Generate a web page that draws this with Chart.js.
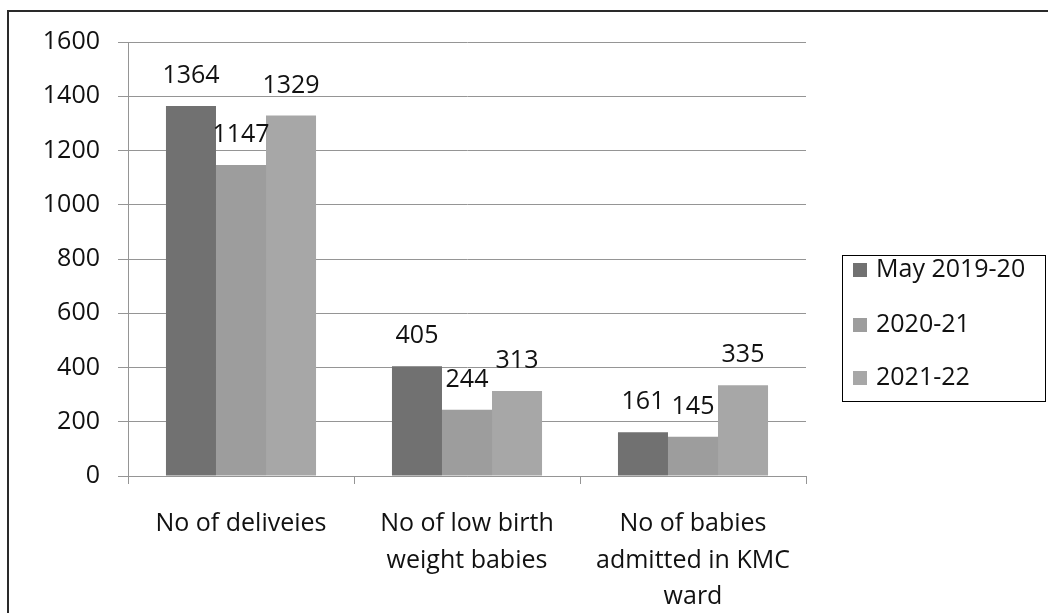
<!DOCTYPE html>
<html>
<head>
<meta charset="utf-8">
<script src="https://cdn.jsdelivr.net/npm/chart.js@4/dist/chart.umd.min.js"></script>
<style>
  html, body { margin: 0; padding: 0; background: #fff; }
  #wrap { position: relative; width: 1048px; height: 613px; overflow: hidden; }
  #frame { position: absolute; left: 7px; top: 10px; width: 1100px; height: 700px; border: 2px solid #2a2a2a; box-shadow: 1px 1px 0 #9a9a9a; }
  #c { position: absolute; left: 0; top: 0; }
</style>
</head>
<body>
<div id="wrap">
  <div id="frame"></div>
  <canvas id="c" width="1048" height="613"></canvas>
</div>
<script>
// ---- Data ----
const categories = [
  ['No of deliveies'],
  ['No of low birth', 'weight babies'],
  ['No of babies', 'admitted in KMC', 'ward']
];
const seriesNames = ['May 2019-20', '2020-21', '2021-22'];
const may2019_20 = [1364, 405, 161];
const y2020_21 = [1147, 244, 145];
const y2021_22 = [1329, 313, 335];
const yTicks = [0, 200, 400, 600, 800, 1000, 1200, 1400, 1600];

const colors = ['#717171', '#9d9d9d', '#a7a7a7'];
const FONT = "'Open Sans', sans-serif";

const valueLabels = {
  id: 'valueLabels',
  afterDatasetsDraw(chart) {
    const ctx = chart.ctx;
    ctx.save();
    ctx.font = "25px " + FONT;
    ctx.fillStyle = '#111';
    ctx.textAlign = 'center';
    ctx.textBaseline = 'middle';
    chart.data.datasets.forEach((ds, i) => {
      const meta = chart.getDatasetMeta(i);
      meta.data.forEach((bar, j) => {
        ctx.fillText(String(ds.data[j]), bar.x, bar.y - 30);
      });
    });
    ctx.restore();
  }
};

const boxedLegend = {
  id: 'boxedLegend',
  afterDraw(chart) {
    const ctx = chart.ctx;
    ctx.save();
    ctx.strokeStyle = '#000';
    ctx.lineWidth = 1;
    ctx.strokeRect(842.5, 255.5, 203, 146);
    ctx.font = "25px " + FONT;
    ctx.textAlign = 'left';
    ctx.textBaseline = 'middle';
    const rows = [270, 325, 378];
    chart.data.datasets.forEach((ds, i) => {
      ctx.fillStyle = ds.backgroundColor;
      ctx.fillRect(853, rows[i] - 7, 14, 14);
      ctx.fillStyle = '#111';
      ctx.fillText(ds.label, 876, rows[i]);
    });
    ctx.restore();
  }
};

new Chart(document.getElementById('c'), {
  type: 'bar',
  data: {
    labels: categories,
    datasets: [
      { label: seriesNames[0], data: may2019_20, backgroundColor: colors[0] },
      { label: seriesNames[1], data: y2020_21, backgroundColor: colors[1] },
      { label: seriesNames[2], data: y2021_22, backgroundColor: colors[2] }
    ]
  },
  options: {
    responsive: false,
    devicePixelRatio: 1,
    animation: false,
    events: [],
    categoryPercentage: 0.664,
    barPercentage: 1.0,
    layout: { padding: { left: 0, right: 242, top: 42, bottom: 0 } },
    plugins: {
      legend: { display: false },
      tooltip: { enabled: false },
      title: { display: false }
    },
    scales: {
      x: {
        afterFit(scale) { scale.height = 137; },
        grid: { display: true, drawOnChartArea: false, drawTicks: true, tickLength: 8, offset: true, color: '#959595', lineWidth: 1 },
        border: { display: true, color: '#959595', width: 1 },
        ticks: { color: '#111', font: { family: FONT, size: 25, lineHeight: 1.46 }, padding: 22, maxRotation: 0, autoSkip: false }
      },
      y: {
        min: 0,
        max: 1600,
        afterFit(scale) { scale.width = 128; },
        afterBuildTicks(scale) { scale.ticks = yTicks.map(v => ({ value: v })); },
        grid: { color: '#959595', lineWidth: 1, drawTicks: true, tickLength: 10 },
        border: { display: true, color: '#959595', width: 1 },
        ticks: { color: '#111', font: { family: FONT, size: 25 }, padding: 18, callback: (v) => String(v) }
      }
    }
  },
  plugins: [valueLabels, boxedLegend]
});
</script>
</body>
</html>
